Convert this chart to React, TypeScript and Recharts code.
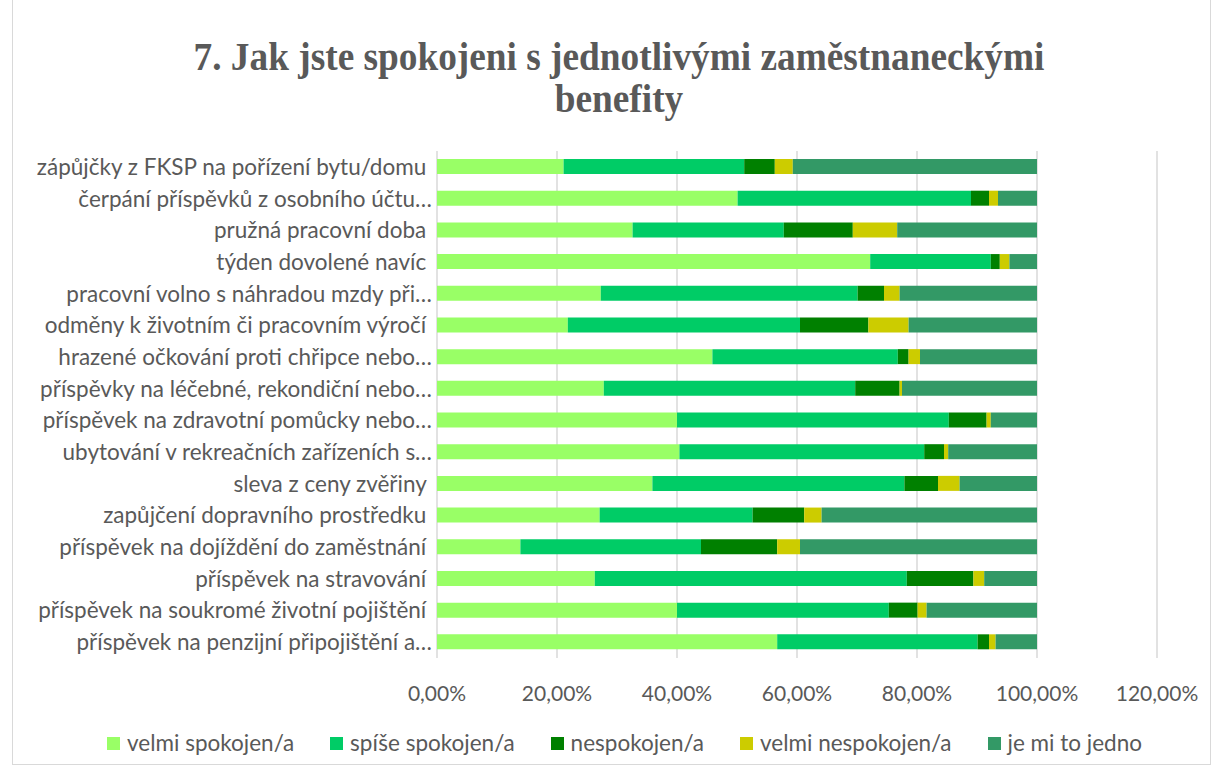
import React from 'react';
import { Bar, BarChart, CartesianGrid, Legend, XAxis, YAxis } from 'recharts';

// benefit categories, top to bottom (labels truncated as in the source)
const CATEGORIES = [
  'zápůjčky z FKSP na pořízení bytu/domu\u00a0',
  'čerpání příspěvků z osobního účtu…',
  'pružná pracovní doba\u00a0',
  'týden dovolené navíc\u00a0',
  'pracovní volno s náhradou mzdy při…',
  'odměny k životním či pracovním výročí\u00a0',
  'hrazené očkování proti chřipce nebo…',
  'příspěvky na léčebné, rekondiční nebo…',
  'příspěvek na zdravotní pomůcky nebo…',
  'ubytování v rekreačních zařízeních s…',
  'sleva z ceny zvěřiny\u00a0',
  'zapůjčení dopravního prostředku\u00a0',
  'příspěvek na dojíždění do zaměstnání\u00a0',
  'příspěvek na stravování\u00a0',
  'příspěvek na soukromé životní pojištění\u00a0',
  'příspěvek na penzijní připojištění a…',
];

const VELMI_SPOKOJEN = [21.1, 50.1, 32.6, 72.2, 27.3, 21.8, 45.9, 27.8, 40.0, 40.4, 35.9, 27.1, 13.9, 26.3, 40.0, 56.7];
const SPISE_SPOKOJEN = [30.1, 38.9, 25.2, 20.1, 42.8, 38.7, 30.9, 41.9, 45.3, 40.8, 42.0, 25.5, 30.1, 52.0, 35.3, 33.4];
const NESPOKOJEN = [5.1, 3.0, 11.5, 1.5, 4.4, 11.4, 1.8, 7.4, 6.3, 3.3, 5.6, 8.6, 12.7, 11.1, 4.8, 1.9];
const VELMI_NESPOKOJEN = [3.0, 1.5, 7.4, 1.6, 2.6, 6.7, 1.9, 0.4, 0.7, 0.7, 3.6, 2.9, 3.8, 1.8, 1.5, 1.1];
const JEDNO = [40.7, 6.5, 23.3, 4.6, 22.9, 21.4, 19.5, 22.5, 7.7, 14.8, 12.9, 35.9, 39.5, 8.8, 18.4, 6.9];

const X_TICKS = [0, 0.2, 0.4, 0.6, 0.8, 1.0, 1.2];

const SERIES = [
  { key: 'velmiSpokojen', name: 'velmi spokojen/a', color: '#99FF66', values: VELMI_SPOKOJEN },
  { key: 'spiseSpokojen', name: 'spíše spokojen/a', color: '#00CC66', values: SPISE_SPOKOJEN },
  { key: 'nespokojen', name: 'nespokojen/a', color: '#008000', values: NESPOKOJEN },
  { key: 'velmiNespokojen', name: 'velmi nespokojen/a', color: '#CCCC00', values: VELMI_NESPOKOJEN },
  { key: 'jedno', name: 'je mi to jedno', color: '#339966', values: JEDNO },
];

const data = CATEGORIES.map((name, i) => {
  const row: Record<string, string | number> = { name };
  SERIES.forEach((s) => {
    row[s.key] = s.values[i] / 100;
  });
  return row;
});

const TEXT = '#595959';
const FONT = 'Lato, "Liberation Sans", sans-serif';

const pct = (v: number) => `${(v * 100).toFixed(2).replace('.', ',')}%`;

function SeriesLegend() {
  return (
    <div
      style={{
        display: 'flex',
        justifyContent: 'center',
        alignItems: 'center',
        gap: 36,
        marginLeft: 92,
        fontFamily: FONT,
        fontSize: 22.5,
        color: TEXT,
        lineHeight: '36px',
      }}
    >
      {SERIES.map((s) => (
        <div key={s.key} style={{ display: 'flex', alignItems: 'center' }}>
          <span style={{ width: 13, height: 13, background: s.color, marginRight: 7, display: 'inline-block' }} />
          <span>{s.name}</span>
        </div>
      ))}
    </div>
  );
}

export default function App() {
  return (
    <div style={{ position: 'absolute', left: 0, top: 0, width: 1220, height: 771, background: '#fff' }}>
      <div
        style={{
          position: 'absolute',
          left: 12,
          top: -1,
          width: 1199,
          height: 766,
          border: '1px solid #d9d9d9',
          boxSizing: 'border-box',
        }}
      />
      <div
        style={{
          position: 'absolute',
          left: 0,
          top: 35,
          width: 1238,
          textAlign: 'center',
          fontFamily: '"Liberation Serif", "Times New Roman", serif',
          fontWeight: 'bold',
          fontSize: 41,
          lineHeight: '42px',
          color: TEXT,
          transform: 'scaleX(0.91)',
          transformOrigin: '619px 0',
        }}
      >
        7. Jak jste spokojeni s jednotlivými zaměstnaneckými
        <br />
        benefity
      </div>
      <div style={{ position: 'absolute', left: 0, top: 0 }}>
        <BarChart
          width={1220}
          height={771}
          data={data}
          layout="vertical"
          margin={{ top: 151, right: 63, left: 0, bottom: 10 }}
          barSize={15}
        >
          <CartesianGrid horizontal={false} stroke="#d9d9d9" strokeWidth={1.5} />
          <XAxis
            type="number"
            domain={[0, 1.2]}
            ticks={X_TICKS}
            tickFormatter={pct}
            axisLine={false}
            tickLine={false}
            tickMargin={22}
            height={67}
            tick={{ fontSize: 21, fill: TEXT, fontFamily: FONT }}
          />
          <YAxis
            type="category"
            dataKey="name"
            width={437}
            axisLine={false}
            tickLine={false}
            tickSize={0}
            tickMargin={5}
            interval={0}
            tick={{ fontSize: 22.5, fill: TEXT, fontFamily: FONT }}
          />
          <Legend verticalAlign="bottom" height={36} content={<SeriesLegend />} />
          {SERIES.map((s) => (
            <Bar
              key={s.key}
              dataKey={s.key}
              name={s.name}
              stackId="a"
              fill={s.color}
              isAnimationActive={false}
            />
          ))}
        </BarChart>
      </div>
    </div>
  );
}
